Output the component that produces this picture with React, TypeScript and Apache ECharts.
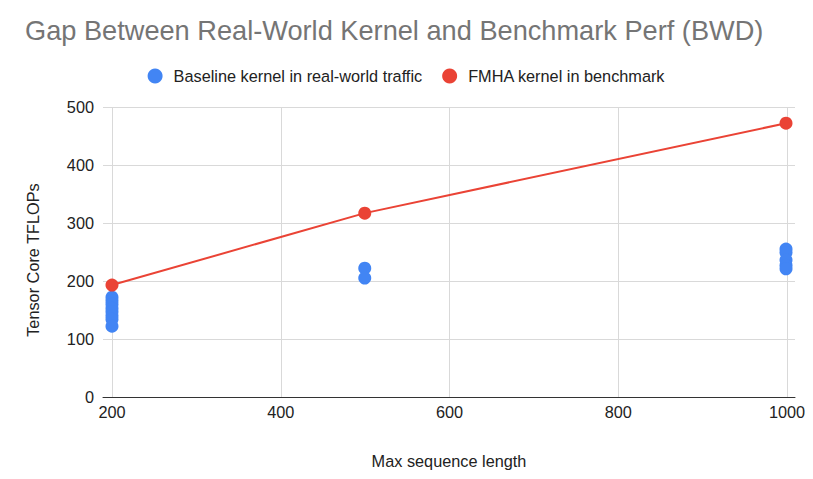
import React, { useEffect, useRef } from "react";
import * as echarts from "echarts";

const titleText = "Gap Between Real-World Kernel and Benchmark Perf (BWD)";
const seriesNames = ["Baseline kernel in real-world traffic", "FMHA kernel in benchmark"];
const xAxisName = "Max sequence length";
const yAxisName = "Tensor Core TFLOPs";

const baselineLen200 = [172, 166, 160, 153, 147, 140, 134, 122];
const baselineLen500 = [222, 205];
const baselineLen1000 = [255, 249, 236, 227, 221];
const benchmarkLengths = [200, 500, 1000];
const benchmarkValues = [193, 317, 472];

const xTickMin = 200;
const xTickMax = 1000;
const xTickStep = 200;
const yTicks = [0, 100, 200, 300, 400, 500];

const FONT = "'Liberation Sans', Arial, sans-serif";
const LABEL_SIZE = 16.3;

export default function App() {
  const ref = useRef<HTMLDivElement>(null);
  useEffect(() => {
    if (!ref.current) return;
    const chart = echarts.init(ref.current, undefined, { renderer: "svg" });
    const baselineData: number[][] = [
      ...baselineLen200.map((v) => [200, v]),
      ...baselineLen500.map((v) => [500, v]),
      ...baselineLen1000.map((v) => [1000, v]),
    ];
    const benchData = benchmarkLengths.map((x, i) => [x, benchmarkValues[i]]);
    const pad = (xTickMax - xTickMin) * (9 / 675);
    chart.setOption({
      animation: false,
      backgroundColor: "#ffffff",
      textStyle: { fontFamily: FONT },
      title: {
        text: titleText,
        left: 20,
        top: 12,
        textStyle: { fontFamily: FONT, fontSize: 27.2, fontWeight: "normal", color: "#757575" },
      },
      legend: {
        top: 63,
        left: "center",
        icon: "circle",
        itemWidth: 15,
        itemHeight: 15,
        itemGap: 20,
        textStyle: { fontFamily: FONT, fontSize: LABEL_SIZE, color: "#222222", padding: [0, 0, 0, 6] },
        data: seriesNames,
      },
      grid: [
        { left: 103, width: 692, top: 107, height: 290 },
        { left: 112, width: 675, top: 107, height: 290 },
      ],
      xAxis: [
        {
          type: "value",
          gridIndex: 0,
          min: xTickMin - pad,
          max: xTickMax + pad,
          name: xAxisName,
          nameLocation: "middle",
          nameGap: 56,
          nameTextStyle: { fontFamily: FONT, fontSize: LABEL_SIZE, color: "#222222" },
          axisLine: { show: true, lineStyle: { color: "#333333", width: 1 } },
          axisTick: { show: false },
          axisLabel: { show: false },
          splitLine: { show: false },
        },
        {
          type: "value",
          gridIndex: 1,
          min: xTickMin,
          max: xTickMax,
          interval: xTickStep,
          axisLine: { show: false },
          axisTick: { show: false },
          axisLabel: {
            show: true,
            fontFamily: FONT,
            fontSize: LABEL_SIZE,
            color: "#222222",
            margin: 7,
            formatter: (v: number) => String(v),
          },
          splitLine: { show: true, lineStyle: { color: "#d9d9d9", width: 1 } },
        },
      ],
      yAxis: [
        {
          type: "value",
          gridIndex: 0,
          min: yTicks[0],
          max: yTicks[yTicks.length - 1],
          interval: yTicks[1] - yTicks[0],
          name: yAxisName,
          nameLocation: "middle",
          nameGap: 62,
          nameTextStyle: {
            fontFamily: FONT,
            fontSize: LABEL_SIZE,
            color: "#222222",
            padding: [0, 16, 0, 0],
          },
          axisLine: { show: false },
          axisTick: { show: false },
          axisLabel: { fontFamily: FONT, fontSize: LABEL_SIZE, color: "#222222", margin: 9 },
          splitLine: { show: true, lineStyle: { color: "#d9d9d9", width: 1 } },
        },
        {
          type: "value",
          gridIndex: 1,
          min: yTicks[0],
          max: yTicks[yTicks.length - 1],
          show: false,
          splitLine: { show: false },
        },
      ],
      series: [
        {
          name: seriesNames[0],
          type: "scatter",
          xAxisIndex: 0,
          yAxisIndex: 0,
          symbol: "circle",
          symbolSize: 13,
          itemStyle: { color: "#4285F4", opacity: 1 },
          data: baselineData,
          z: 3,
        },
        {
          name: seriesNames[1],
          type: "line",
          xAxisIndex: 0,
          yAxisIndex: 0,
          symbol: "circle",
          symbolSize: 13,
          showSymbol: true,
          lineStyle: { color: "#EA4335", width: 2 },
          itemStyle: { color: "#EA4335" },
          data: benchData,
          z: 4,
        },
      ],
    });
    return () => chart.dispose();
  }, []);
  return <div ref={ref} style={{ width: 813, height: 479, margin: -8 }} />;
}
